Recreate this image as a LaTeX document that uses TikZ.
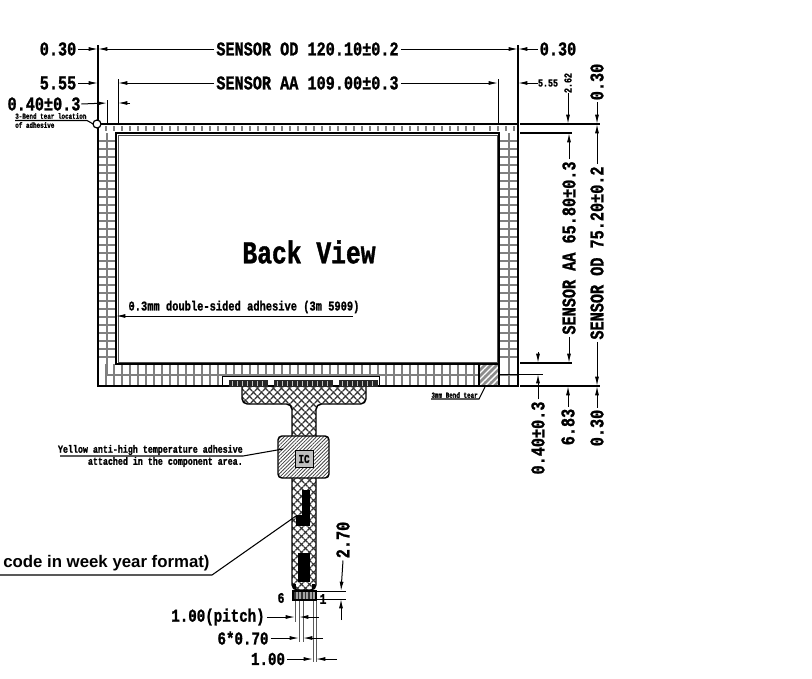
\documentclass[tikz,border=0pt]{standalone}
\usepackage{fontspec}
\usepackage{tikz}
\tikzset{>=latex}
\usetikzlibrary{patterns, patterns.meta, arrows.meta}
\newfontfamily\cadfont[FakeStretch=0.78,FakeBold=1.2]{Liberation Mono Bold}
\newfontfamily\notefont{Liberation Sans Bold}
\tikzset{
    dimline/.style={line width=0.75pt, -{Latex[length=7pt,width=3pt]}},
    extline/.style={line width=0.6pt},
    leader/.style={line width=0.8pt},
    bandgrid/.style={line width=0.9pt, draw=black!50},
    cadbig/.style={font=\cadfont\fontsize{14.6}{15}\selectfont, inner sep=1.5pt},
    cadmid/.style={font=\cadfont\fontsize{10}{11}\selectfont, inner sep=0pt},
    cadsmall/.style={font=\cadfont\fontsize{8}{9}\selectfont, inner sep=0pt},
    cadtiny/.style={font=\cadfont\fontsize{5.7}{6}\selectfont, inner sep=0pt},
    cross/.style={preaction={fill=white},
        preaction={pattern={Lines[angle=45,distance=4pt,line width=1.1pt]}, pattern color=black!80},
        pattern={Lines[angle=-45,distance=4pt,line width=1.1pt]}, pattern color=black!80},
}

\begin{document}
\begin{tikzpicture}[x=0.75pt, y=-0.75pt]
    \useasboundingbox (0,0) rectangle (812,678);

    \coordinate (odTL) at (98,124);
    \coordinate (odBR) at (518,386);
    \coordinate (aaTL) at (118,133);
    \coordinate (aaBR) at (498,363);

    % adhesive bands
    \foreach \y in {141,149,...,360}{
        \draw[bandgrid] (98,\y) -- (116,\y);
        \draw[bandgrid] (499,\y) -- (518,\y);
    }
    \foreach \x in {106,114,...,480}{
        \draw[bandgrid] (\x,364) -- (\x,386);
        \draw[bandgrid] (\x,126) -- (\x,131);
    }
    \foreach \x in {490,498,...,515}{
        \draw[bandgrid] (\x,126) -- (\x,131);
    }
    \draw[bandgrid] (107,133) -- (107,375) -- (479,375);
    \draw[bandgrid] (509,133) -- (509,386);
    \draw[bandgrid] (499,375) -- (518,375);

    % tear tab in the corner
    \fill[fill=white] (222,376) rectangle (379,386);
    \draw[line width=0.7pt] (222,386) -- (222,376) -- (379,376) -- (379,386);
    \fill[fill=black!45] (479,364) rectangle (499,386);
    \fill[pattern={Lines[angle=45,distance=3.2pt,line width=1pt]}, pattern color=white] (479,364) rectangle (499,386);
    \draw[line width=1pt] (479,364) rectangle (499,386);

    % outlines
    \draw[line width=2pt] (odTL) rectangle (odBR);
    \draw[line width=1.6pt] (116,133) rectangle (499,364);
    \draw[line width=0.6pt, draw=black!70] (118,135) rectangle (497,362);

    % flex tail
    \fill[fill=white] (242,387) rectangle (366,404);
    \draw[cross, line width=1.1pt, rounded corners=4pt] (242,387) -- (242,404) -- (292,404) -- (292,590) -- (316,590) -- (316,404) -- (366,404) -- (366,387);

    % connector pads
    \fill[black!85] (229,380) rectangle (268,387);
    \fill[black!85] (274,380) rectangle (333,387);
    \fill[black!85] (339,380) rectangle (378,387);
    \foreach \x in {232,237,...,265,277,282,...,330,342,347,...,375}{
        \draw[line width=0.5pt, white!75!black] (\x,381) -- (\x,386);
    }

    % component area
    \draw[line width=1.1pt, rounded corners=3pt, preaction={fill=white}, pattern={Lines[angle=45,distance=1.9pt,line width=0.55pt]}, pattern color=black!75] (278,436) rectangle (329,478);
    \node[draw, line width=0.7pt, fill=black!25, minimum width=13.5pt, minimum height=12.5pt, inner sep=0pt, font=\cadfont\fontsize{9}{9}\selectfont] (icbox) at (304,459) {IC};

    % parts on the tail
    \fill[black] (302,490) rectangle (310,525);
    \fill[black] (296,515) rectangle (310,526);
    \fill[black] (298,553) rectangle (310,582);
    \fill[black] (293,584) rectangle (296,589);
    \fill[black] (312,584) rectangle (315,589);

    % fingers
    \fill[black!35] (293,591) rectangle (316,600);
    \foreach \x in {295,298.5,...,316}{
        \draw[line width=0.9pt, black!80] (\x,591) -- (\x,600);
    }
    \draw[line width=0.8pt] (293,591) rectangle (316,600);

    % top dimensions
    \node[cadbig] (odLeft) at (58,49) {0.30};
    \node[cadbig] (odWidth) at (307.5,49) {SENSOR OD 120.10±0.2};
    \node[cadbig] (odRight) at (558,49) {0.30};
    \node[cadbig] (aaLeft) at (58,83) {5.55};
    \node[cadbig] (aaWidth) at (307.5,83) {SENSOR AA 109.00±0.3};
    \node[cadsmall] (aaRight) at (548,83) {5.55};
    \node[cadbig, inner sep=0.5pt] (gapLeft) at (44,104) {0.40±0.3};

    \draw[extline, line width=0.9pt] (odTL) -- (98,45);
    \draw[extline, line width=0.9pt] (518,124) -- (518,45);
    \draw[extline] (aaTL |- 0,124) -- (118,79);
    \draw[extline] (498,124) -- (498,79);
    \draw[extline] (107,124) -- (107,100);

    \draw[dimline] (odLeft.east) -- (98,49);
    \draw[dimline] (odWidth.west) -- (98,49);
    \draw[dimline] (odWidth.east) -- (518,49);
    \draw[dimline] (odRight.west) -- (518,49);
    \draw[dimline] (aaLeft.east) -- (98,83);
    \draw[dimline] (aaWidth.west) -- (118,83);
    \draw[dimline] (aaWidth.east) -- (498,83);
    \draw[dimline] (aaRight.west) -- (518,83);
    \draw[dimline] (gapLeft.east) -- (107,103);
    \coordinate (gapEnd) at (130,103);
    \draw[dimline] (gapEnd) -- (118,103);

    % right dimensions
    \node[cadbig, rotate=90] (aaHeight) at (569,248) {SENSOR AA 65.80±0.3};
    \node[cadbig, rotate=90] (odHeight) at (597,253) {SENSOR OD 75.20±0.2};
    \node[cadsmall, rotate=90] (aaTop) at (568,83) {2.62};
    \node[cadbig, rotate=90] (odTop) at (597,82) {0.30};
    \node[cadbig, rotate=90] (aaBottom) at (568,427) {6.83};
    \node[cadbig, rotate=90] (odBottom) at (597,428) {0.30};
    \node[cadbig, rotate=90] (gapBottom) at (538,438) {0.40±0.3};

    \draw[line width=1.1pt] (520,124) -- (600,124);
    \draw[line width=0.8pt] (520,133) -- (572,133);
    \draw[line width=0.8pt] (520,363) -- (572,363);
    \draw[line width=1.1pt] (520,386) -- (600,386);
    \draw[extline] (500,374) -- (543,374);

    \draw[dimline] (aaTop.west) -- (568,124);
    \draw[dimline] (aaHeight.east) -- (569,133);
    \draw[dimline] (aaHeight.west) -- (569,363);
    \draw[dimline] (aaBottom.east) -- (568,386);
    \draw[dimline] (odTop.west) -- (597,124);
    \draw[dimline] (odHeight.east) -- (597,124);
    \draw[dimline] (odHeight.west) -- (597,386);
    \draw[dimline] (odBottom.east) -- (597,386);
    \coordinate (gapTop) at (538,352);
    \draw[dimline] (gapTop) -- (538,363);
    \draw[dimline] (gapBottom.east) -- (538,374);

    % tail dimensions
    \node[cadbig, rotate=90] (tailLen) at (343,540) {2.70};
    \node[cadbig, font=\cadfont\fontsize{11}{11}\selectfont] (pinSix) at (281,598) {6};
    \node[cadbig, font=\cadfont\fontsize{11}{11}\selectfont] (pinOne) at (323,599) {1};
    \node[cadbig, font=\cadfont\fontsize{13.6}{14}\selectfont] (pitchLabel) at (218,617) {1.00(pitch)};
    \node[cadbig, font=\cadfont\fontsize{13.6}{14}\selectfont] (padLabel) at (243,638) {6*0.70};
    \node[cadbig, font=\cadfont\fontsize{13.6}{14}\selectfont] (pinLabel) at (268,659) {1.00};

    \draw[extline] (316,591) -- (346,591);
    \draw[extline] (316,599) -- (346,599);
    \draw[dimline] (tailLen.west) -- (341,591);
    \coordinate (tailEnd) at (341,620);
    \draw[dimline] (tailEnd) -- (341,599);

    \foreach \x/\yend in {295/622, 299/642, 303/642, 313/662, 316/662}{
        \draw[extline, draw=black!65] (\x,601) -- (\x,\yend);
    }
    \coordinate (pitchEnd) at (319,617);
    \coordinate (padEnd) at (323,638);
    \coordinate (pinEnd) at (337,659);
    \draw[dimline] (pitchLabel.east) -- (295,617);
    \draw[dimline] (pitchEnd) -- (299,617);
    \draw[dimline] (padLabel.east) -- (299,638);
    \draw[dimline] (padEnd) -- (303,638);
    \draw[dimline] (pinLabel.east) -- (313,659);
    \draw[dimline] (pinEnd) -- (316,659);

    % notes
    \node[font=\cadfont\fontsize{23.7}{24}\selectfont, inner sep=0pt] (backView) at (309,252) {Back View};

    \node[cadmid] (tapeNote) at (244,307) {0.3mm double-sided adhesive (3m 5909)};
    \coordinate (tapeEnd) at (353,316);
    \draw[dimline] (tapeEnd) -- (116,316);

    \node[cadsmall, anchor=east] (yellowA) at (243,450) {Yellow anti-high temperature adhesive};
    \node[cadsmall, anchor=east] (yellowB) at (243,462) {attached in the component area.};
    \draw[leader] (60,456) -- (243,456) -- (283,449);

    \node[cadtiny, anchor=west] (tearA) at (15,116) {3-Bend tear location};
    \node[cadtiny, anchor=west] (tearB) at (15,125) {of adhesive};
    \draw[leader] (15,120.5) -- (87,120.5) -- (95,125);
    \draw[line width=0.9pt, fill=white] (97,124) circle[radius=3pt];

    \node[cadtiny, anchor=east] (bendNote) at (478,395) {3mm Bend tear};
    \draw[leader] (431,399) -- (479,399) -- (485,387);

    \node[font=\notefont\fontsize{12.6}{14}\selectfont, anchor=west, inner sep=0pt] (dateNote) at (3,563) {code in week year format)};
    \draw[leader] (0,575) -- (212,575) -- (296,516);
\end{tikzpicture}
\end{document}
